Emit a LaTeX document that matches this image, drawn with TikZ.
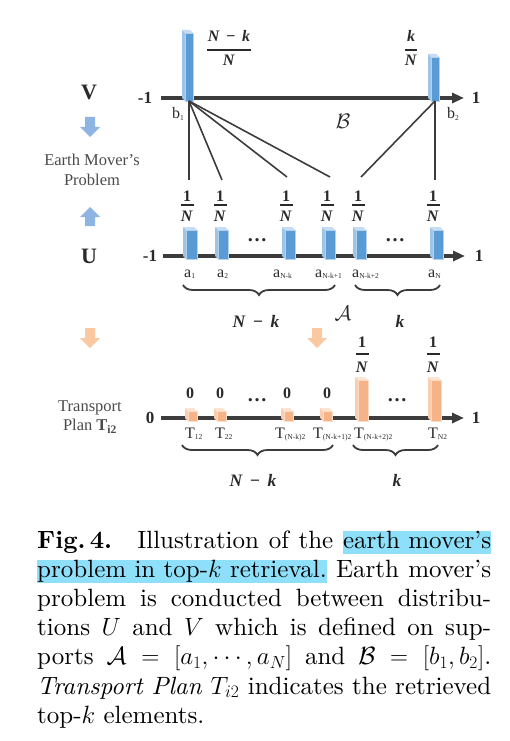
\RequirePackage{fix-cm}
\documentclass[tikz,border=0pt]{standalone}
\usepackage{fontspec}
\newfontfamily\tnr{Liberation Serif}
\newfontfamily\capfont{lmroman10}[Extension=.otf, UprightFont=*-regular, BoldFont=*-bold, ItalicFont=*-italic, BoldItalicFont=*-bolditalic]
\usetikzlibrary{arrows.meta,decorations.pathreplacing}
\definecolor{axisc}{HTML}{3C3C3C}
\definecolor{txtc}{HTML}{2A2A2A}
\definecolor{labc}{HTML}{4A4A4A}
\definecolor{bfront}{HTML}{5B9BD5}
\definecolor{btop}{HTML}{C5DCF2}
\definecolor{bside}{HTML}{9EC4E8}
\definecolor{ofront}{HTML}{F5B387}
\definecolor{otop}{HTML}{FCE4D2}
\definecolor{oside}{HTML}{F9CDAE}
\definecolor{barrow}{HTML}{8DB4E2}
\definecolor{oarrow}{HTML}{FAC9A1}
\definecolor{hlc}{HTML}{8EDFF9}
% #1 x0, #2 x1, #3 ytop, #4 ybot, #5 front, #6 top, #7 side
\newcommand\boxbar[7]{%
  \fill[#7] (#1,#3) -- (#1-3,#3-3) -- (#1-3,#4-3) -- (#1,#4) -- cycle;
  \fill[#6] (#1,#3) -- (#1-3,#3-3) -- (#2-3,#3-3) -- (#2,#3) -- cycle;
  \fill[#5] (#1,#3) rectangle (#2,#4);
  \draw[white!55!#5, line width=0.5pt] (#1,#3) rectangle (#2,#4);
}
\newcommand\bbar[4]{\boxbar{#1}{#2}{#3}{#4}{bfront}{btop}{bside}}
\newcommand\obar[4]{\boxbar{#1}{#2}{#3}{#4}{ofront}{otop}{oside}}
% name, x, ynum, yrule, yden, num, den, halfwidth
\newcommand\frc[8]{%
  \node[fnum] (#1n) at (#2,#3) {#6};
  \node[fnum] (#1d) at (#2,#5) {#7};
  \draw[frule] (#2-#8,#4) -- (#2+#8,#4);
}
\newcommand\sbs[1]{\raisebox{-1.2pt}{\fontsize{7.5}{8}\selectfont #1}}
\newcommand\NN{\textit{N}}
\newcommand\darr[3]{\fill[#3] (#1-5,#2) -- (#1+5,#2) -- (#1+5,#2+10) -- (#1+10,#2+10) -- (#1,#2+20) -- (#1-10,#2+10) -- (#1-5,#2+10) -- cycle;}
\newcommand\uarr[3]{\fill[#3] (#1-5,#2) -- (#1+5,#2) -- (#1+5,#2-9) -- (#1+10,#2-9) -- (#1,#2-19) -- (#1-10,#2-9) -- (#1-5,#2-9) -- cycle;}
\newcommand\hlt[1]{{\setlength{\fboxsep}{0pt}\colorbox{hlc}{\rule[-5.5pt]{0pt}{21.5pt}#1}}}
\begin{document}
\begin{tikzpicture}[x=1pt,y=-1pt,
  axis/.style={line width=3.5pt, draw=axisc, -{Triangle[length=12pt,width=10pt]}},
  conn/.style={line width=1.6pt, draw=axisc},
  axlab/.style={font=\tnr\bfseries\fontsize{17}{19}\selectfont, text=txtc, inner sep=0},
  rowlab/.style={font=\tnr\bfseries\fontsize{22}{24}\selectfont, text=txtc, inner sep=0},
  sidelab/.style={font=\tnr\fontsize{16.5}{19.5}\selectfont, text=labc, align=center, inner sep=0},
  fnum/.style={font=\tnr\bfseries\fontsize{16}{18}\selectfont, text=txtc, inner sep=0, anchor=base},
  bitext/.style={font=\tnr\bfseries\itshape\fontsize{17.5}{19}\selectfont, text=txtc, inner sep=0, anchor=base},
  frule/.style={line width=1.6pt, draw=txtc},
  sl/.style={font=\tnr\fontsize{16}{17}\selectfont, text=txtc, inner sep=0, anchor=base west},
  dotlab/.style={font=\tnr\bfseries\fontsize{20}{22}\selectfont, text=txtc, inner sep=0, anchor=base},
  calig/.style={font=\fontsize{21}{24}\selectfont, text=txtc, inner sep=0},
  brc/.style={decorate, decoration={brace, amplitude=10pt, mirror}, line width=1.8pt, draw=axisc},
  caption/.style={anchor=north west, inner sep=0, text width=454pt, align=justify, font=\capfont\fontsize{25}{29.2}\selectfont}]
\useasboundingbox (0,0) rectangle (510,741);

% ---------- V row ----------
\node[rowlab] (V) at (89,92) {V};
\node[axlab] (vm1) at (145,98) {-1};
\node[axlab] (vp1) at (476,98) {1};
\coordinate (vs) at (161,98);
\coordinate (ve) at (464,98);
\draw[axis] (vs) -- (ve);
\bbar{185}{193}{33}{101}
\bbar{431}{439}{57}{101}
\coordinate (b1) at (189,101);
\coordinate (b2) at (435,101);
\frc{fv1}{229}{42}{50}{66}{\NN\,\ − \,\textit{k}}{\NN}{22}
\frc{fv2}{411}{42}{50}{66}{\textit{k}}{\NN}{6}
\node[sl] (lb1) at (172,119) {b\sbs{1}};
\node[sl] (lb2) at (447,119) {b\sbs{2}};
\node[calig] (calB) at (343,121) {$\mathcal{B}$};

% ---------- side labels ----------
\darr{90}{117}{barrow}
\node[sidelab] (emp) at (92,170) {Earth Mover’s\\Problem};
\uarr{90}{226}{barrow}
\node[rowlab] (U) at (89,256) {U};
\darr{90}{328}{oarrow}
\darr{317}{328}{oarrow}
\node[sidelab] (tp) at (90,417) {Transport\\Plan \textbf{T}\textsubscript{\textbf{i2}}};

% ---------- connectors ----------
\coordinate (e1) at (189,180);
\coordinate (e2) at (222,180);
\coordinate (e3) at (287,177);
\coordinate (e4) at (330,177);
\coordinate (e5) at (361,177);
\coordinate (e6) at (435,180);
\draw[conn] (b1) -- (e1);
\draw[conn] (b1) -- (e2);
\draw[conn] (b1) -- (e3);
\draw[conn] (b1) -- (e4);
\draw[conn] (b2) -- (e5);
\draw[conn] (b2) -- (e6);

% ---------- U row ----------
\frc{fu1}{187}{201}{205}{221}{1}{\NN}{6.5}
\frc{fu2}{220}{201}{205}{221}{1}{\NN}{6.5}
\frc{fu3}{286}{201}{205}{221}{1}{\NN}{6.5}
\frc{fu4}{327}{201}{205}{221}{1}{\NN}{6.5}
\frc{fu5}{358}{201}{205}{221}{1}{\NN}{6.5}
\frc{fu6}{433}{201}{205}{221}{1}{\NN}{6.5}
\node[axlab] (um1) at (150,256) {-1};
\node[axlab] (up1) at (479,256) {1};
\coordinate (us) at (163,256);
\coordinate (ue) at (465,256);
\draw[axis] (us) -- (ue);
\bbar{186}{197}{230}{259}
\bbar{218}{228}{230}{259}
\bbar{285}{295}{230}{259}
\bbar{325}{335}{230}{259}
\bbar{356}{366}{230}{259}
\bbar{433}{443}{230}{259}
\node[dotlab] (ud1) at (257,241) {…};
\node[dotlab] (ud2) at (395,241) {…};
\node[sl] (la1) at (184,277) {a\sbs{1}};
\node[sl] (la2) at (217,277) {a\sbs{2}};
\node[sl] (la3) at (273,277) {a\sbs{N-k}};
\node[sl] (la4) at (315,277) {a\sbs{N-k+1}};
\node[sl] (la5) at (352,277) {a\sbs{N-k+2}};
\node[sl] (la6) at (428,277) {a\sbs{N}};
\coordinate (ub1) at (183,285);
\coordinate (ub2) at (335,285);
\coordinate (ub3) at (355,285);
\coordinate (ub4) at (440,285);
\draw[brc] (ub1) -- (ub2);
\draw[brc] (ub3) -- (ub4);
\node[bitext] (unk) at (256,327) {\NN\,\ − \,\textit{k}};
\node[bitext] (uk) at (400,327) {\textit{k}};
\node[calig] (calA) at (343,313) {$\mathcal{A}$};

% ---------- Transport row ----------
\frc{ft1}{362}{347}{354}{372}{1}{\NN}{6.5}
\frc{ft2}{433}{347}{354}{372}{1}{\NN}{6.5}
\node[fnum] (z1) at (190,398) {0};
\node[fnum] (z2) at (220,398) {0};
\node[fnum] (z3) at (287,398) {0};
\node[fnum] (z4) at (327,398) {0};
\node[dotlab] (td1) at (257,401) {…};
\node[dotlab] (td2) at (397,401) {…};
\node[axlab] (t0) at (150,418) {0};
\node[axlab] (t1) at (476,418) {1};
\coordinate (ts) at (161,418);
\coordinate (te) at (464,418);
\draw[axis] (ts) -- (te);
\obar{188}{197}{411}{421}
\obar{217}{226}{411}{421}
\obar{284}{293}{411}{421}
\obar{323}{332}{411}{421}
\obar{358}{368}{380}{421}
\obar{431}{441}{380}{421}
\node[sl] (lt1) at (185,438) {T\sbs{12}};
\node[sl] (lt2) at (215,438) {T\sbs{22}};
\node[sl] (lt3) at (275,438) {T\sbs{(N-k)2}};
\node[sl] (lt4) at (313,438) {T\sbs{(N-k+1)2}};
\node[sl] (lt5) at (354,438) {T\sbs{(N-k+2)2}};
\node[sl] (lt6) at (428,438) {T\sbs{N2}};
\coordinate (tb1) at (182,445);
\coordinate (tb2) at (333,445);
\coordinate (tb3) at (353,445);
\coordinate (tb4) at (438,445);
\draw[brc] (tb1) -- (tb2);
\draw[brc] (tb3) -- (tb4);
\node[bitext] (tnk) at (253,486) {\NN\,\ − \,\textit{k}};
\node[bitext] (tk) at (397,486) {\textit{k}};

% ---------- caption ----------
\node[caption] (cap) at (37,530.3) {\textbf{Fig.\,4.}\hspace{0.4em} Illustration of the \hlt{earth mover’s}\linebreak
\hlt{problem in top-$k$ retrieval.} Earth mover’s\linebreak
problem is conducted between distribu-\linebreak
tions $U$ and $V$ which is defined on sup-\linebreak
ports $\mathcal{A}=[a_1,\cdots,a_N]$ and $\mathcal{B}=[b_1,b_2]$.\linebreak
\textit{Transport Plan} $T_{i2}$ indicates the retrieved\linebreak
top-$k$ elements.};
\end{tikzpicture}
\end{document}
